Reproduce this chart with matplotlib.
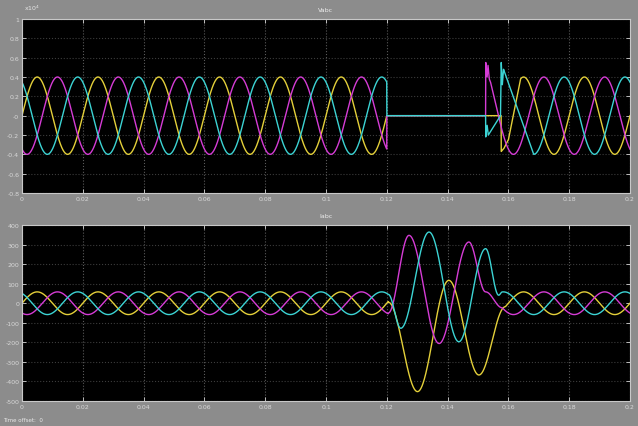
import numpy as np
import matplotlib.pyplot as plt

# scope traces: 3-phase voltage (x10^4 V) and current (A), 50 Hz
freq = 50.0
t_end = 0.2
phase_shift = [0, -120, 120]                  # deg, phases a, b, c
phase_color = ['#e4d03a', '#d63cd6', '#3cd4d4']

v_amp = 0.4
i_amp = 58.0

# voltage collapses to zero between these times
v_off_t = 0.12
v_back_t = 0.1525

# recovery transients of the voltage, last time = where it is back on the sine
v_knot_t = [
    [0.1525, 0.1576, 0.15765, 0.1585, 0.1600, 0.1640],
    [0.1525, 0.15255, 0.1530, 0.1533, 0.1537, 0.1541, 0.1575],
    [0.1525, 0.15255, 0.1530, 0.1534, 0.1574, 0.15765, 0.1580, 0.1584, 0.1683],
]
v_knot_v = [
    [0.0, 0.0, -0.37, -0.34, -0.25],
    [0.0, 0.55, 0.40, 0.52, 0.38, 0.35],
    [0.0, -0.22, -0.10, -0.20, 0.0, 0.55, 0.32, 0.48],
]

# fault current peaks, last time = where it settles back to the load current
i_knot_t = [
    [0.1205, 0.1301, 0.1404, 0.1503, 0.1590],
    [0.1205, 0.1273, 0.1372, 0.1470, 0.1525, 0.1580],
    [0.1205, 0.1246, 0.1339, 0.1437, 0.1525, 0.1568, 0.1580],
]
i_knot_v = [
    [5, -452, 117, -367],
    [-50, 347, -206, 313, 58],
    [45, -128, 364, -197, 279, 41],
]

x_ticks = np.arange(0, 0.2001, 0.02)
v_ticks = np.arange(-0.8, 1.001, 0.2)
i_ticks = np.arange(-500, 401, 100)


def steady(t, amp, shift):
    return amp * np.sin(2 * np.pi * freq * t + np.radians(shift))


def splice(t, y, kt, kv, amp, shift, smooth):
    kt = np.array(kt)
    kv = np.array(list(kv) + [steady(kt[-1], amp, shift)])
    m = (t >= kt[0]) & (t <= kt[-1])
    if smooth:
        seg = np.clip(np.searchsorted(kt, t[m], side='right') - 1, 0, len(kt) - 2)
        s = (t[m] - kt[seg]) / (kt[seg + 1] - kt[seg])
        y[m] = kv[seg] + (kv[seg + 1] - kv[seg]) * (1 - np.cos(np.pi * s)) / 2
    else:
        y[m] = np.interp(t[m], kt, kv)
    return y


t = np.linspace(0, t_end, 8001)

volts = []
amps = []
for k in range(3):
    v = steady(t, v_amp, phase_shift[k])
    v[(t >= v_off_t) & (t < v_back_t)] = 0.0
    v = splice(t, v, v_knot_t[k], v_knot_v[k], v_amp, phase_shift[k], False)
    volts.append(v)
    i = steady(t, i_amp, phase_shift[k])
    i = splice(t, i, i_knot_t[k], i_knot_v[k], i_amp, phase_shift[k], True)
    amps.append(i)

W, H = 638, 427
fig = plt.figure(figsize=(W / 100, H / 100), dpi=100, facecolor='#8c8c8c')


def box(x0, y0, x1, y1):
    return [x0 / W, 1 - y1 / H, (x1 - x0) / W, (y1 - y0) / H]


ax1 = fig.add_axes(box(22, 20, 630, 194))
ax2 = fig.add_axes(box(22, 226, 630, 402))

for ax, data, ticks, ylim in [(ax1, volts, v_ticks, (-0.8, 1.0)),
                              (ax2, amps, i_ticks, (-500, 400))]:
    ax.set_facecolor('black')
    for k in range(3):
        ax.plot(t, data[k], color=phase_color[k], lw=1.0)
    ax.set_xlim(0, t_end)
    ax.set_ylim(*ylim)
    ax.set_xticks(x_ticks)
    ax.set_xticklabels([f'{x:g}' for x in np.round(x_ticks, 2)])
    ax.set_yticks(ticks)
    ax.set_yticklabels([f'{y:g}' for y in np.round(ticks, 1)])
    ax.tick_params(direction='in', length=3, width=0.6, colors='#d8d8d8',
                   labelsize=4.5, pad=2, right=True, top=True)
    ax.xaxis.grid(True, color='#5a5a5a', ls=':', lw=0.8)
    ax.yaxis.grid(True, color='#3c3c3c', ls=':', lw=0.8)
    for sp in ax.spines.values():
        sp.set_color('#c8c8c8')
        sp.set_linewidth(0.8)

fig.text(326 / W, 1 - 10 / H, 'Vabc', color='#eeeeee', fontsize=4.5,
         ha='center', va='center')
fig.text(326 / W, 1 - 217 / H, 'Iabc', color='#eeeeee', fontsize=4.5,
         ha='center', va='center')
fig.text(24 / W, 1 - 8 / H, 'x10$^4$', color='#e8e8e8', fontsize=4.5,
         ha='left', va='center')
fig.text(3 / W, 1 - 421 / H, 'Time offset:  0', color='#e8e8e8', fontsize=4,
         ha='left', va='center')

fig.savefig('out.png', dpi=100, facecolor=fig.get_facecolor())
